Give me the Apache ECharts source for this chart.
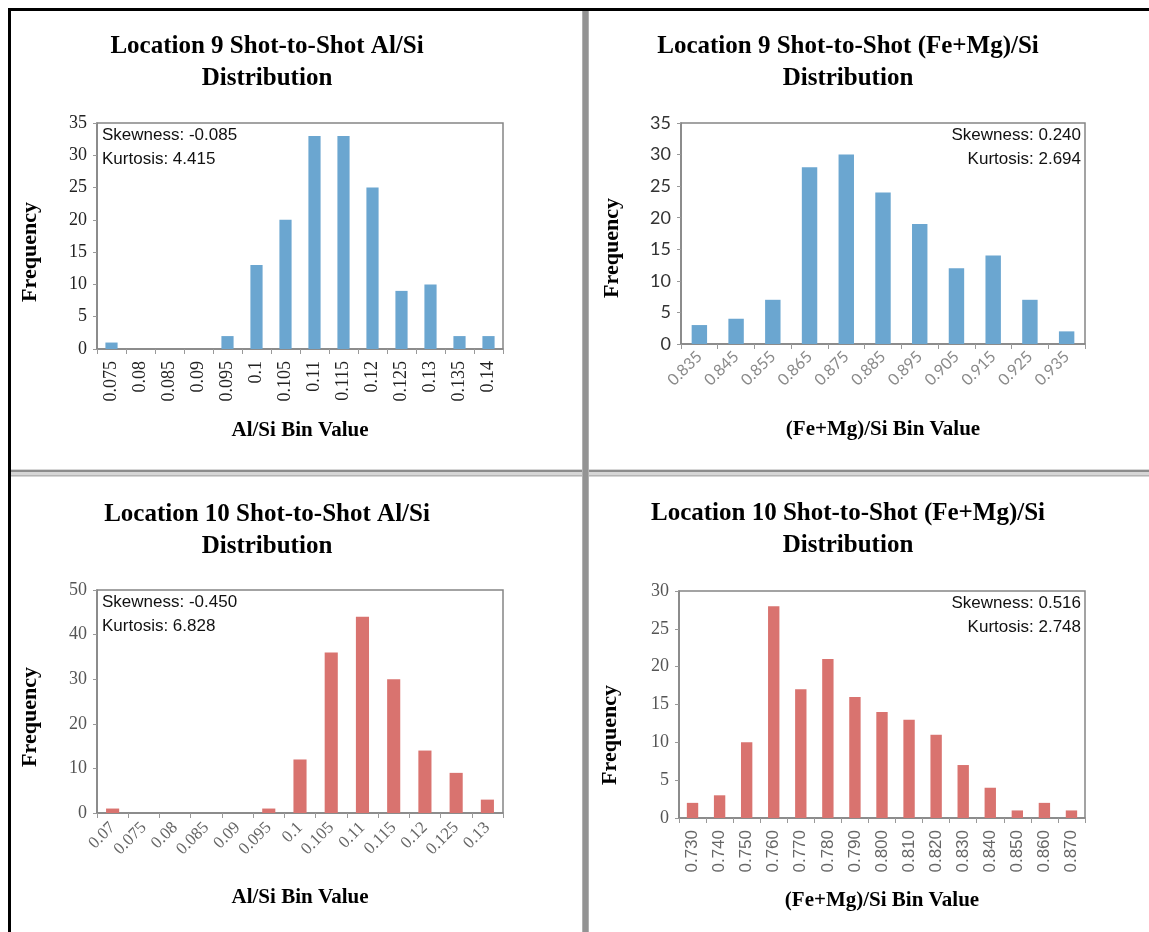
<!DOCTYPE html>
<html>
<head>
<meta charset="utf-8">
<script src="https://cdn.jsdelivr.net/npm/echarts@6/dist/echarts.min.js"></script>
<style>
  html, body { margin: 0; padding: 0; background: #fff; }
  #chart { width: 1149px; height: 932px; }
</style>
</head>
<body>
<div id="chart"></div>
<script>
// ---- Histogram data: bin labels and shot counts ----
const loc9AlSiBins = ['0.075', '0.08', '0.085', '0.09', '0.095', '0.1', '0.105', '0.11', '0.115', '0.12', '0.125', '0.13', '0.135', '0.14'];
const loc9AlSiFreq = [1, 0, 0, 0, 2, 13, 20, 33, 33, 25, 9, 10, 2, 2];

const loc9FeMgSiBins = ['0.835', '0.845', '0.855', '0.865', '0.875', '0.885', '0.895', '0.905', '0.915', '0.925', '0.935'];
const loc9FeMgSiFreq = [3, 4, 7, 28, 30, 24, 19, 12, 14, 7, 2];

const loc10AlSiBins = ['0.07', '0.075', '0.08', '0.085', '0.09', '0.095', '0.1', '0.105', '0.11', '0.115', '0.12', '0.125', '0.13'];
const loc10AlSiFreq = [1, 0, 0, 0, 0, 1, 12, 36, 44, 30, 14, 9, 3];

const loc10FeMgSiBins = ['0.730', '0.740', '0.750', '0.760', '0.770', '0.780', '0.790', '0.800', '0.810', '0.820', '0.830', '0.840', '0.850', '0.860', '0.870'];
const loc10FeMgSiFreq = [2, 3, 10, 28, 17, 21, 16, 14, 13, 11, 7, 4, 1, 2, 1];

// Frequency axis ranges
const freqMax = [35, 35, 50, 30];
const freqStep = [5, 5, 10, 5];

// Chart titles and moment statistics
const titles = [
  'Location 9 Shot-to-Shot Al/Si\nDistribution',
  'Location 9 Shot-to-Shot (Fe+Mg)/Si\nDistribution',
  'Location 10 Shot-to-Shot Al/Si\nDistribution',
  'Location 10 Shot-to-Shot (Fe+Mg)/Si\nDistribution'
];
const xNames = ['Al/Si Bin Value', '(Fe+Mg)/Si Bin Value', 'Al/Si Bin Value', '(Fe+Mg)/Si Bin Value'];
const stats = [
  'Skewness: -0.085\nKurtosis: 4.415',
  'Skewness: 0.240\nKurtosis: 2.694',
  'Skewness: -0.450\nKurtosis: 6.828',
  'Skewness: 0.516\nKurtosis: 2.748'
];

// ---- Styling ----
const SERIF = '"Liberation Serif", "Times New Roman", serif';
const SANS = '"Liberation Sans", Arial, sans-serif';
const SOFT = 'Lato, "Open Sans", sans-serif';
const BLUE = '#6ba6d0';
const RED = '#d9736f';

const layout = [
  {
    bins: loc9AlSiBins, freq: loc9AlSiFreq, color: BLUE,
    grid: { left: 97, top: 123, width: 406, height: 226 },
    titleX: 267, titleTop: 31,
    yName: [30, 252], statsPos: [102, 123], statsAlign: 'left', xNameGap: 71,
    xLabel: { rotate: 90, fontFamily: SERIF, fontSize: 18, color: '#222', margin: 12 },
    yLabel: { fontFamily: SERIF, fontSize: 18, color: '#222' }
  },
  {
    bins: loc9FeMgSiBins, freq: loc9FeMgSiFreq, color: BLUE,
    grid: { left: 681, top: 123, width: 404, height: 221 },
    titleX: 848, titleTop: 31,
    yName: [612, 248], statsPos: [1081, 123], statsAlign: 'right', xNameGap: 75,
    xLabel: { rotate: 45, fontFamily: SOFT, fontSize: 16, color: '#8a8a8a', margin: 10 },
    yLabel: { fontFamily: SOFT, fontSize: 18, color: '#333' }
  },
  {
    bins: loc10AlSiBins, freq: loc10AlSiFreq, color: RED,
    grid: { left: 97, top: 590, width: 406, height: 223 },
    titleX: 267, titleTop: 499,
    yName: [30, 717], statsPos: [102, 590], statsAlign: 'left', xNameGap: 74,
    xLabel: { rotate: 45, fontFamily: SERIF, fontSize: 17, color: '#666', margin: 12 },
    yLabel: { fontFamily: SERIF, fontSize: 18, color: '#555' }
  },
  {
    bins: loc10FeMgSiBins, freq: loc10FeMgSiFreq, color: RED,
    grid: { left: 679, top: 591, width: 406, height: 227 },
    titleX: 848, titleTop: 498,
    yName: [610, 735], statsPos: [1081, 591], statsAlign: 'right', xNameGap: 72,
    xLabel: { rotate: 90, fontFamily: SANS, fontSize: 17, color: '#666', margin: 12 },
    yLabel: { fontFamily: SERIF, fontSize: 18, color: '#555' }
  }
];

const AXIS_GREY = '#858585';

const option = {
  animation: false,
  backgroundColor: '#ffffff',
  title: layout.map((p, i) => ({
    text: titles[i],
    left: p.titleX,
    top: p.titleTop,
    textAlign: 'center',
    padding: 0,
    textStyle: {
      fontFamily: SERIF, fontWeight: 'bold', fontSize: 25, color: '#000', lineHeight: 32
    }
  })),
  grid: layout.map(p => Object.assign({
    show: true, borderColor: AXIS_GREY, borderWidth: 1.5, backgroundColor: 'transparent'
  }, p.grid)),
  xAxis: layout.map((p, i) => ({
    type: 'category',
    gridIndex: i,
    data: p.bins,
    boundaryGap: true,
    name: xNames[i],
    nameLocation: 'middle',
    nameGap: p.xNameGap,
    nameTextStyle: { fontFamily: SERIF, fontWeight: 'bold', fontSize: 21, color: '#000' },
    axisLine: { show: true, lineStyle: { color: AXIS_GREY, width: 1.5 } },
    axisTick: { show: true, alignWithLabel: false, length: 5, lineStyle: { color: '#999' } },
    axisLabel: Object.assign({ interval: 0, hideOverlap: false }, p.xLabel),
    splitLine: { show: false }
  })),
  yAxis: layout.map((p, i) => ({
    type: 'value',
    gridIndex: i,
    min: 0,
    max: freqMax[i],
    interval: freqStep[i],
    axisLine: { show: true, lineStyle: { color: AXIS_GREY, width: 1.5 } },
    axisTick: { show: true, length: 4, lineStyle: { color: '#999' } },
    axisLabel: Object.assign({ margin: 10 }, p.yLabel),
    splitLine: { show: false }
  })),
  series: layout.map((p, i) => ({
    type: 'bar',
    xAxisIndex: i,
    yAxisIndex: i,
    data: p.freq,
    barCategoryGap: '58%',
    itemStyle: { color: p.color },
    emphasis: { disabled: true }
  })),
  graphic: [
    // panel frame: outer black edges
    { type: 'rect', shape: { x: 8, y: 8, width: 3, height: 924 }, style: { fill: '#000' } },
    { type: 'rect', shape: { x: 8, y: 8, width: 1141, height: 3 }, style: { fill: '#000' } },
    // horizontal divider between the two rows
    { type: 'rect', shape: { x: 11, y: 469, width: 1138, height: 8 }, style: { fill: '#d6d6d6' } },
    { type: 'rect', shape: { x: 11, y: 470, width: 1138, height: 2 }, style: { fill: '#8c8c8c' } },
    { type: 'rect', shape: { x: 11, y: 475, width: 1138, height: 1 }, style: { fill: '#b5b5b5' } },
    // vertical divider between the two columns
    { type: 'rect', shape: { x: 582, y: 11, width: 7, height: 921 }, style: { fill: '#b0b0b0' } },
    { type: 'rect', shape: { x: 583, y: 11, width: 5, height: 921 }, style: { fill: '#939393' } },
    // y-axis titles
    ...layout.map(p => ({
      type: 'text',
      x: p.yName[0], y: p.yName[1],
      rotation: Math.PI / 2,
      style: {
        text: 'Frequency', fontFamily: SERIF, fontWeight: 'bold', fontSize: 22,
        fill: '#000', align: 'center', verticalAlign: 'middle'
      }
    })),
    // skewness / kurtosis annotations
    ...layout.map((p, i) => ({
      type: 'text',
      x: p.statsPos[0], y: p.statsPos[1],
      style: {
        text: stats[i], fontFamily: SANS, fontSize: 17, lineHeight: 24,
        fill: '#111', align: p.statsAlign, verticalAlign: 'top'
      }
    }))
  ]
};

const chart = echarts.init(document.getElementById('chart'), null, { renderer: 'canvas' });
chart.setOption(option);
</script>
</body>
</html>
